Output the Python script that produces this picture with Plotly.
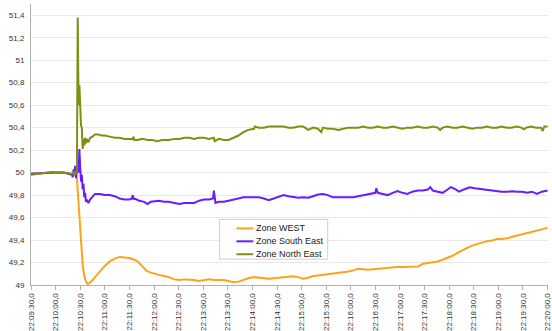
import pandas as pd
import plotly.graph_objects as go

# time offsets in seconds from 22:09:30
west_t = [0, 10, 20, 30, 40, 50, 54, 56, 58, 60, 62, 63, 65, 67, 69, 72, 74, 78, 84, 90, 96, 102, 108, 114,
          120, 126, 130, 134, 138, 141, 146, 150, 156, 162, 168, 175, 181, 187, 193, 199, 205, 211, 217, 223,
          229, 235, 241, 247, 253, 259, 265, 272, 278, 284, 290, 296, 302, 308, 314, 320, 326, 332, 338, 344,
          350, 356, 362, 368, 375, 381, 387, 393, 399, 405, 411, 417, 423, 429, 435, 441, 447, 453, 459, 465,
          472, 478, 484, 490, 496, 502, 508, 514, 520, 526, 532, 538, 544, 550, 556, 562, 568, 574, 581, 587,
          593, 599, 605, 611, 617, 623, 630]
west_v = [49.99, 49.995, 50.0, 50.0, 50.0, 49.99, 49.98, 49.95, 49.75, 49.55, 49.3, 49.18, 49.08, 49.03, 49.01,
          49.02, 49.035, 49.07, 49.12, 49.17, 49.21, 49.235, 49.25, 49.245,
          49.24, 49.225, 49.21, 49.18, 49.15, 49.125, 49.11, 49.10, 49.09, 49.08, 49.07, 49.05, 49.045, 49.05,
          49.05, 49.045, 49.035, 49.04, 49.05, 49.045,
          49.045, 49.045, 49.035, 49.025, 49.03, 49.045, 49.06, 49.07, 49.065, 49.06, 49.055, 49.06, 49.065,
          49.07, 49.075, 49.077, 49.07, 49.055, 49.065, 49.08,
          49.085, 49.09, 49.10, 49.10, 49.105, 49.11, 49.12, 49.13, 49.145, 49.14, 49.135, 49.14, 49.145, 49.15,
          49.155, 49.155, 49.16, 49.16, 49.16, 49.163,
          49.165, 49.19, 49.195, 49.2, 49.21, 49.225, 49.24, 49.26, 49.285, 49.31, 49.33, 49.35, 49.365, 49.375,
          49.39, 49.395, 49.41, 49.41, 49.415, 49.43,
          49.44, 49.45, 49.46, 49.47, 49.48, 49.495, 49.51]

south_east_t = [0, 10, 20, 30, 40, 45, 50, 51, 52, 53, 54, 55, 56, 57, 58, 59, 60, 61, 62, 63, 64, 65, 66, 67,
                68, 70, 72, 75, 78, 84, 90, 96, 102, 108, 114, 120, 123, 124, 125, 126, 132, 138, 142, 146, 150,
                156, 162, 168, 175, 181, 187, 193, 199, 205, 211, 217, 222, 223, 224, 225, 229, 235, 241, 247,
                253, 259, 265, 272, 278, 284, 290, 296, 302, 308, 314, 320, 326, 332, 338, 344, 350, 356, 362,
                368, 375, 381, 387, 393, 399, 405, 411, 417, 420, 421, 423, 429, 435, 441, 447, 453, 459, 465,
                472, 478, 484, 487, 490, 496, 502, 508, 512, 518, 522, 528, 535, 541, 550, 556, 562, 568, 574,
                581, 587, 593, 599, 605, 611, 617, 623, 630]
south_east_v = [49.99, 49.995, 50.0, 50.0, 50.0, 49.99, 49.98, 49.96, 50.03, 49.97, 50.06, 49.95, 50.02, 50.08,
                50.0, 50.21, 50.05, 49.92, 49.98, 49.85, 49.9, 49.78, 49.82, 49.74,
                49.76, 49.73, 49.76, 49.79, 49.81, 49.81, 49.80, 49.80, 49.79, 49.77, 49.76, 49.76, 49.77, 49.80,
                49.76, 49.77, 49.75, 49.74, 49.72, 49.74, 49.745,
                49.75, 49.74, 49.74, 49.73, 49.72, 49.73, 49.73, 49.73, 49.75, 49.76, 49.76, 49.77, 49.84, 49.76,
                49.73, 49.74, 49.74, 49.75, 49.76,
                49.77, 49.78, 49.78, 49.78, 49.78, 49.77, 49.755, 49.77, 49.785, 49.80, 49.79, 49.78, 49.776,
                49.78, 49.776, 49.79, 49.805, 49.81, 49.80,
                49.78, 49.78, 49.78, 49.78, 49.78, 49.79, 49.80, 49.81, 49.82, 49.82, 49.86, 49.82, 49.81, 49.80,
                49.82, 49.835, 49.82, 49.81, 49.83,
                49.84, 49.84, 49.85, 49.87, 49.84, 49.83, 49.82, 49.85, 49.87, 49.85, 49.83, 49.85, 49.87, 49.86,
                49.85, 49.845, 49.84, 49.835, 49.83,
                49.83, 49.835, 49.83, 49.83, 49.82, 49.83, 49.81, 49.83, 49.84]

north_east_t = [0, 5, 10, 15, 20, 25, 30, 35, 40, 45, 50, 52, 53, 54, 55, 56, 57, 58, 59, 60, 61, 62, 63, 64,
                65, 66, 67, 68, 70, 72, 75, 78, 82, 86, 90, 96, 102, 108, 114, 120, 124, 125, 126, 130, 136,
                142, 148, 154, 160, 168, 175, 181, 187, 193, 199, 205, 211, 217, 223, 224, 229, 235, 241, 247,
                253, 259, 265, 272, 273, 278, 284, 290, 296, 302, 308, 314, 320, 326, 332, 338, 344, 350, 354,
                356, 362, 368, 375, 381, 387, 393, 399, 405, 411, 417, 423, 429, 435, 441, 447, 453, 459, 465,
                472, 478, 484, 490, 496, 499, 502, 508, 514, 520, 526, 532, 538, 544, 550, 556, 562, 568, 574,
                580, 586, 592, 598, 601, 604, 610, 616, 622, 624, 626, 630]
north_east_v = [49.98, 49.985, 49.99, 49.995, 50.0, 50.005, 50.0, 50.0, 50.0, 49.995, 49.99, 50.0, 49.97,
                50.01, 49.99, 50.02, 51.38, 50.6, 50.78, 50.5, 50.42, 50.4, 50.21, 50.3,
                50.24, 50.31, 50.26, 50.3, 50.27, 50.31, 50.32, 50.34, 50.34, 50.33, 50.33, 50.32, 50.31, 50.31,
                50.3, 50.3, 50.3, 50.32, 50.29, 50.29, 50.3,
                50.29, 50.29, 50.28, 50.29, 50.29, 50.3, 50.3, 50.31, 50.31, 50.3, 50.31, 50.31, 50.3, 50.31,
                50.28, 50.3, 50.29, 50.29, 50.31,
                50.33, 50.36, 50.38, 50.39, 50.41, 50.40, 50.40, 50.41, 50.41, 50.41, 50.41, 50.40, 50.40, 50.41,
                50.41, 50.38, 50.40, 50.39, 50.36,
                50.40, 50.39, 50.39, 50.38, 50.39, 50.40, 50.40, 50.40, 50.41, 50.40, 50.40, 50.41, 50.40, 50.40,
                50.41, 50.40, 50.39, 50.40, 50.40,
                50.41, 50.40, 50.40, 50.41, 50.40, 50.38, 50.40, 50.41, 50.40, 50.40, 50.41, 50.40, 50.39, 50.40,
                50.40, 50.41, 50.40, 50.40, 50.41,
                50.40, 50.40, 50.41, 50.40, 50.385, 50.40, 50.41, 50.40, 50.40, 50.37, 50.41, 50.41]

series_names = ["Zone WEST", "Zone South East", "Zone North East"]
series_colors = ["#FFA21A", "#6A1BFF", "#7E8F12"]

y_tick_vals = [49, 49.2, 49.4, 49.6, 49.8, 50, 50.2, 50.4, 50.6, 50.8, 51, 51.2, 51.4]
y_tick_text = ["49", "49,2", "49,4", "49,6", "49,8", "50", "50,2", "50,4", "50,6", "50,8", "51", "51,2", "51,4"]

W, H = 552, 331
ML, MR, MT, MB = 31, 0, 4, 44
PW, PH = W - ML - MR, H - MT - MB

base = pd.Timestamp("2020-01-01 22:09:30")


def to_time(secs):
    return base + pd.to_timedelta(secs, unit="s")


def px_x(px):
    return (px - ML) / PW


def px_y(py):
    return (H - MB - py) / PH


fig = go.Figure()
data = [(west_t, west_v), (south_east_t, south_east_v), (north_east_t, north_east_v)]
for name, color, (t, v) in zip(series_names, series_colors, data):
    fig.add_trace(go.Scatter(x=to_time(t), y=v, mode="lines", name=name,
                             line=dict(color=color, width=2), showlegend=False))

# legend box drawn as layout decoration
shapes = [dict(type="rect", xref="paper", yref="paper",
               x0=px_x(221), x1=px_x(330), y0=px_y(261), y1=px_y(221),
               fillcolor="white", line=dict(color="#cfcfcf", width=1), layer="above")]
annotations = []
row_y = [230, 243, 256]
for name, color, ry in zip(series_names, series_colors, row_y):
    shapes.append(dict(type="line", xref="paper", yref="paper",
                       x0=px_x(238), x1=px_x(255), y0=px_y(ry), y1=px_y(ry),
                       line=dict(color=color, width=2), layer="above"))
    annotations.append(dict(xref="paper", yref="paper", x=px_x(256), y=px_y(ry),
                            xanchor="left", yanchor="middle", showarrow=False,
                            text=name, font=dict(size=9, color="#222222")))

fig.update_layout(
    width=W, height=H,
    margin=dict(l=ML, r=MR, t=MT, b=MB),
    paper_bgcolor="white", plot_bgcolor="white",
    font=dict(family="Liberation Sans, Arial, sans-serif", size=8, color="#333333"),
    showlegend=False,
    shapes=shapes, annotations=annotations,
)
fig.update_xaxes(
    type="date",
    range=[to_time(0), to_time(630.5)],
    dtick=30000, tick0=to_time(0),
    tickformat="%H:%M:%S,0", tickangle=-90,
    showgrid=False, showline=True, linecolor="#b0b0b0", linewidth=1,
    ticks="outside", ticklen=4, tickcolor="#b0b0b0",
    tickfont=dict(size=8, color="#333333"),
    ticklabeloverflow="allow",
    zeroline=False,
)
fig.update_yaxes(
    range=[49, 51.5],
    tickvals=y_tick_vals, ticktext=y_tick_text,
    showgrid=True, gridcolor="#e8e8e8", gridwidth=1,
    showline=True, linecolor="#b0b0b0", linewidth=1,
    ticks="", tickfont=dict(size=8, color="#333333"),
    ticklabelstandoff=4,
    zeroline=False,
)

fig.write_html("out.html")
